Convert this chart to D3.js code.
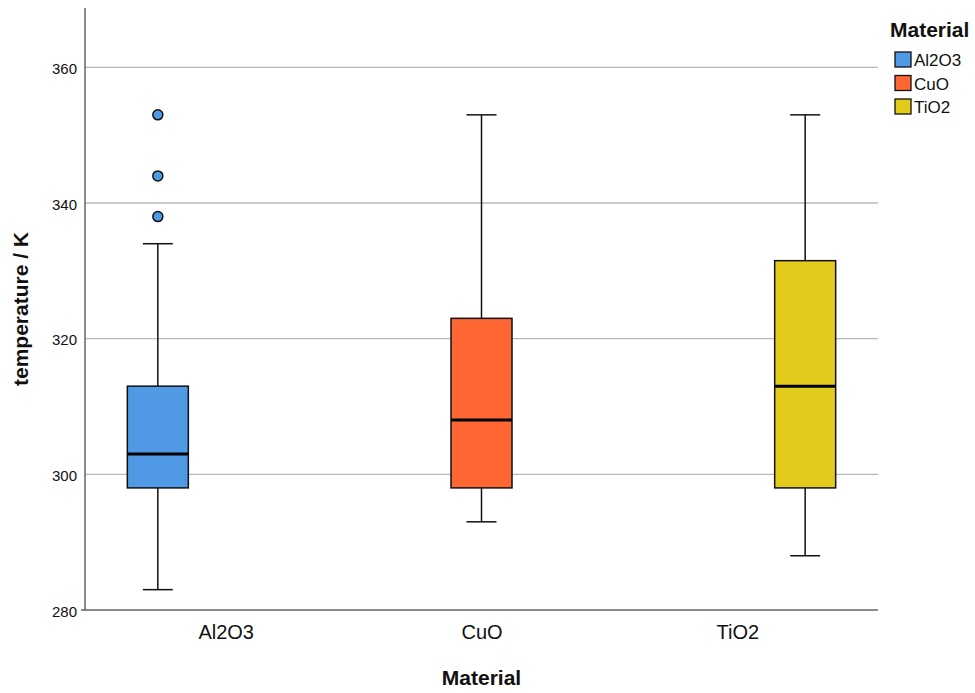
<!DOCTYPE html>
<html>
<head>
<meta charset="utf-8">
<script src="https://cdn.jsdelivr.net/npm/d3@7"></script>
<style>
  html, body { margin: 0; padding: 0; background: #fff; }
  svg { display: block; font-family: "Liberation Sans", Arial, sans-serif; }
</style>
</head>
<body>
<svg id="chart" width="975" height="693"></svg>
<script>
// Five-number summaries per material (temperature in K)
const categories = ["Al2O3", "CuO", "TiO2"];
const whiskerLow = [283, 293, 288];
const q1 = [298, 298, 298];
const median = [303, 308, 313];
const q3 = [313, 323, 331.5];
const whiskerHigh = [334, 353, 353];
const outliers = [[338, 344, 353], [], []];
const colors = ["#4f99e5", "#fe6633", "#e3cb1b"];
const yTicks = [280, 300, 320, 340, 360];

const svg = d3.select("#chart");
const plotLeft = 85, plotRight = 878, plotTop = 8, plotBottom = 610;

const y = d3.scaleLinear().domain([280, 368.75]).range([plotBottom, plotTop]);
// boxes sit on one point scale, category labels on a narrower one
const x = d3.scalePoint().domain(categories).range([plotLeft, plotRight]).padding(0.225);
const xLabel = d3.scalePoint().domain(categories).range([plotLeft, plotRight]).padding(0.55);
const boxW = 61, capW = 30;

// gridlines
svg.append("g").selectAll("line")
  .data(yTicks.filter(t => t > 280))
  .join("line")
  .attr("x1", plotLeft).attr("x2", plotRight)
  .attr("y1", d => y(d)).attr("y2", d => y(d))
  .attr("stroke", "#b8b8b8").attr("stroke-width", 1.3);

// y axis
const yAxis = d3.axisLeft(y).tickValues(yTicks).tickSize(0).tickPadding(8).tickFormat(d3.format("d"));
const gy = svg.append("g").attr("transform", `translate(${plotLeft},0)`).call(yAxis);
gy.select(".domain").remove();
gy.selectAll("text").attr("font-size", 15).attr("fill", "#111").attr("dy", "0.4em")
  .attr("font-family", "Liberation Sans, Arial, sans-serif");

// x axis
const xAxis = d3.axisBottom(xLabel).tickSize(0).tickPadding(15);
const gx = svg.append("g").attr("transform", `translate(0,${plotBottom})`).call(xAxis);
gx.select(".domain").remove();
gx.selectAll("text").attr("font-size", 20).attr("fill", "#111")
  .attr("font-family", "Liberation Sans, Arial, sans-serif");

// axis lines
svg.append("line").attr("x1", plotLeft).attr("x2", plotLeft).attr("y1", plotTop).attr("y2", plotBottom + 0.5)
  .attr("stroke", "#666").attr("stroke-width", 1.5);
svg.append("line").attr("x1", plotLeft - 4).attr("x2", plotLeft).attr("y1", plotBottom).attr("y2", plotBottom)
  .attr("stroke", "#666").attr("stroke-width", 1.5);
svg.append("line").attr("x1", plotLeft).attr("x2", plotRight).attr("y1", plotBottom).attr("y2", plotBottom)
  .attr("stroke", "#666").attr("stroke-width", 1.5);

// box plots
const boxes = svg.append("g").selectAll("g")
  .data(categories.map((c, i) => ({c, i})))
  .join("g");

boxes.append("line")
  .attr("x1", d => x(d.c)).attr("x2", d => x(d.c))
  .attr("y1", d => y(whiskerLow[d.i])).attr("y2", d => y(q1[d.i]))
  .attr("stroke", "#111").attr("stroke-width", 1.5);
boxes.append("line")
  .attr("x1", d => x(d.c)).attr("x2", d => x(d.c))
  .attr("y1", d => y(whiskerHigh[d.i])).attr("y2", d => y(q3[d.i]))
  .attr("stroke", "#111").attr("stroke-width", 1.5);
boxes.append("line")
  .attr("x1", d => x(d.c) - capW / 2).attr("x2", d => x(d.c) + capW / 2)
  .attr("y1", d => y(whiskerLow[d.i])).attr("y2", d => y(whiskerLow[d.i]))
  .attr("stroke", "#111").attr("stroke-width", 1.5);
boxes.append("line")
  .attr("x1", d => x(d.c) - capW / 2).attr("x2", d => x(d.c) + capW / 2)
  .attr("y1", d => y(whiskerHigh[d.i])).attr("y2", d => y(whiskerHigh[d.i]))
  .attr("stroke", "#111").attr("stroke-width", 1.5);
boxes.append("rect")
  .attr("x", d => x(d.c) - boxW / 2).attr("width", boxW)
  .attr("y", d => y(q3[d.i])).attr("height", d => y(q1[d.i]) - y(q3[d.i]))
  .attr("fill", d => colors[d.i]).attr("stroke", "#111").attr("stroke-width", 1.5);
boxes.append("line")
  .attr("x1", d => x(d.c) - boxW / 2).attr("x2", d => x(d.c) + boxW / 2)
  .attr("y1", d => y(median[d.i])).attr("y2", d => y(median[d.i]))
  .attr("stroke", "#000").attr("stroke-width", 3);
boxes.selectAll("circle")
  .data(d => outliers[d.i].map(v => ({v, c: d.c, i: d.i})))
  .join("circle")
  .attr("cx", d => x(d.c)).attr("cy", d => y(d.v)).attr("r", 5)
  .attr("fill", d => colors[d.i]).attr("stroke", "#111").attr("stroke-width", 1.5);

// axis titles
svg.append("text")
  .attr("x", (plotLeft + plotRight) / 2).attr("y", 685)
  .attr("text-anchor", "middle").attr("font-size", 21).attr("font-weight", "bold").attr("fill", "#111")
  .text("Material");
svg.append("text")
  .attr("transform", `translate(28,${(plotTop + plotBottom) / 2}) rotate(-90)`)
  .attr("text-anchor", "middle").attr("font-size", 21).attr("font-weight", "bold").attr("fill", "#111")
  .text("temperature / K");

// legend
const lg = svg.append("g").attr("transform", "translate(890,0)");
lg.append("text").attr("x", 0).attr("y", 37)
  .attr("font-size", 21).attr("font-weight", "bold").attr("fill", "#111").text("Material");
const items = lg.selectAll("g.item").data(categories).join("g")
  .attr("class", "item")
  .attr("transform", (d, i) => `translate(5,${52 + i * 23.5})`);
items.append("rect").attr("width", 16).attr("height", 15)
  .attr("fill", (d, i) => colors[i]).attr("stroke", "#111").attr("stroke-width", 1.3);
items.append("text").attr("x", 19).attr("y", 14)
  .attr("font-size", 17).attr("fill", "#111").text(d => d);
</script>
</body>
</html>
